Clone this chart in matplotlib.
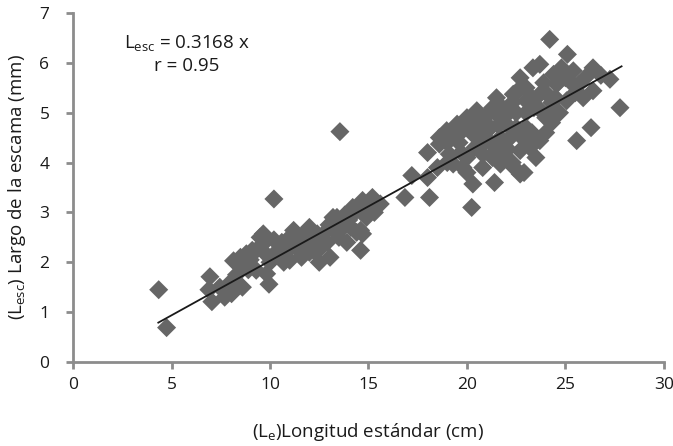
import matplotlib
matplotlib.use('Agg')
import matplotlib.pyplot as plt
import numpy as np

# longitud estandar (cm) and largo de la escama (mm)
longitud = [
    4.35, 4.75, 6.95, 7.05, 6.9, 7.45, 7.7, 8.05, 8.0, 8.15, 8.5, 8.3, 8.6, 8.9, 8.8, 9.1,
    8.4, 9.0, 9.6,
    9.3, 9.5, 9.66, 9.3, 9.83, 9.95, 10.2, 10.0, 10.3, 10.5, 10.6, 10.9, 11.0, 11.2, 11.35,
    11.5, 11.0, 11.8, 12.0, 12.2, 12.4, 10.8, 11.6,
    9.7, 10.2, 10.7, 11.3, 11.7, 12.0, 12.3, 12.7, 13.0, 13.4, 13.8, 14.1, 14.3, 14.8, 15.1,
    12.5,
    12.6, 12.8, 13.05, 13.2, 13.4, 13.5, 13.55, 13.7, 13.9, 14.0, 14.2, 14.4, 14.6, 14.6,
    14.7, 14.7, 14.9, 15.2, 15.3, 15.6, 12.9, 13.2,
    16.85, 17.2, 18.0, 18.1, 18.0, 18.6, 18.6, 18.97, 19.1, 19.3, 19.5, 19.6, 19.8, 20.0,
    20.0, 20.24, 20.3, 20.3, 18.5, 19.0,
    20.5, 20.7, 20.8, 21.0, 21.4, 21.5, 21.5, 21.7, 21.7, 22.0, 22.35, 22.7, 22.7, 22.7,
    21.2, 21.9, 22.2, 22.5, 20.6, 21.3, 22.9, 22.3, 23.0, 23.0,
    19.0, 19.4, 19.8, 20.2, 20.5, 20.9, 21.2, 21.6, 22.0, 22.3, 22.6, 23.0, 23.3, 23.6,
    24.0, 24.3, 24.6, 25.0, 25.5, 23.0, 22.5, 21.8, 21.0, 20.4, 19.7, 20.0, 20.8, 21.3,
    22.0, 22.8, 23.3, 24.3, 22.4, 21.5, 24.7, 25.9, 26.8,
    23.35, 23.4, 23.5, 23.7, 23.7, 23.7, 24.0, 24.2, 24.4, 24.55, 25.06, 25.1, 25.4, 25.57,
    25.7, 26.3, 26.4, 26.4, 27.26, 27.77, 24.2, 24.5, 23.9, 24.8, 26.0, 25.3, 24.0, 23.2,
]
escama = [
    1.45, 0.69, 1.71, 1.21, 1.45, 1.5, 1.3, 1.37, 1.6, 2.03, 2.1, 1.75, 1.5, 1.85, 2.17, 2.24,
    1.95, 2.05, 2.35,
    1.84, 2.5, 2.57, 2.24, 1.77, 1.56, 3.27, 2.0, 2.2, 2.1, 2.4, 2.3, 2.04, 2.64, 2.57,
    2.44, 2.5, 2.3, 2.2, 2.4, 2.57, 2.2, 2.1,
    2.2, 2.45, 2.0, 2.3, 2.55, 2.7, 2.2, 2.45, 2.75, 2.6, 2.95, 2.7, 3.0, 3.1, 3.15,
    2.0,
    2.3, 2.6, 2.1, 2.9, 2.9, 2.5, 4.62, 2.7, 2.4, 2.85, 3.1, 2.6, 2.24, 2.64,
    3.24, 2.57, 2.9, 3.3, 3.0, 3.17, 2.4, 2.7,
    3.3, 3.74, 3.7, 3.3, 4.2, 4.5, 4.37, 4.64, 4.17, 3.97, 4.77, 4.4, 3.9, 4.1,
    4.9, 3.1, 3.57, 4.57, 3.9, 4.0,
    5.04, 4.37, 4.17, 4.7, 3.6, 5.3, 4.97, 4.5, 3.97, 4.77, 5.37, 3.77, 4.24, 5.7,
    4.4, 4.2, 4.5, 5.0, 4.8, 5.1, 3.8, 4.0, 4.7, 5.24,
    4.4, 4.55, 4.65, 4.75, 4.55, 4.9, 4.7, 4.75, 4.95, 5.2, 5.45, 5.5, 5.3, 5.1,
    5.4, 5.2, 5.6, 5.7, 5.4, 5.0, 4.7, 5.1, 4.45, 4.3, 4.2, 3.8, 3.9, 4.1,
    4.3, 4.5, 4.6, 4.8, 3.9, 4.25, 5.0, 5.3, 5.75,
    5.9, 5.1, 4.1, 4.44, 5.37, 5.97, 4.9, 6.47, 5.77, 5.57, 5.24, 6.17, 5.84, 4.44,
    5.57, 4.7, 5.9, 5.44, 5.67, 5.1, 5.0, 5.3, 5.6, 5.9, 5.7, 5.6, 4.6, 4.3,
]

# trend line as drawn in the figure
trend_x = [4.33, 27.85]
trend_y = [0.79, 5.93]

xticks = [0, 5, 10, 15, 20, 25, 30]
yticks = [0, 1, 2, 3, 4, 5, 6, 7]

plt.rcParams['font.family'] = ['Open Sans', 'DejaVu Sans']
plt.rcParams['mathtext.fontset'] = 'custom'
plt.rcParams['mathtext.rm'] = 'Open Sans'

fig = plt.figure(figsize=(6.73, 4.46), dpi=100)
ax = fig.add_axes([0.1085, 0.1883, 0.878, 0.7826])

ax.scatter(longitud, escama, marker='D', s=9.7 ** 2, color='#666666',
           edgecolors='none', zorder=2)
ax.plot(trend_x, trend_y, color='#1a1a1a', lw=1.3, zorder=3)

ax.set_xlim(0, 30)
ax.set_ylim(0, 7)
ax.set_xticks(xticks)
ax.set_yticks(yticks)

for side in ['top', 'right']:
    ax.spines[side].set_visible(False)
for side in ['left', 'bottom']:
    ax.spines[side].set_color('#8c8c8c')
    ax.spines[side].set_linewidth(2)
ax.tick_params(axis='both', direction='out', length=5, width=2, color='#8c8c8c',
               labelsize=12.5, labelcolor='#1a1a1a')
ax.tick_params(axis='y', pad=12)
ax.tick_params(axis='x', pad=6)

ax.set_xlabel(r'($\mathregular{L_e}$)Longitud estándar (cm)', fontsize=13.5,
              color='#1a1a1a', labelpad=20)
ax.set_ylabel(r'($\mathregular{L_{esc}}$) Largo de la escama (mm)', fontsize=13.5,
              color='#1a1a1a', labelpad=8)

ax.text(2.6, 6.4, r'$\mathregular{L_{esc}}$ = 0.3168 x', fontsize=13.5,
        color='#1a1a1a', va='center', ha='left')
ax.text(5.75, 5.93, 'r = 0.95', fontsize=13.5, color='#1a1a1a', va='center', ha='center')

fig.savefig('out.png', dpi=100)
